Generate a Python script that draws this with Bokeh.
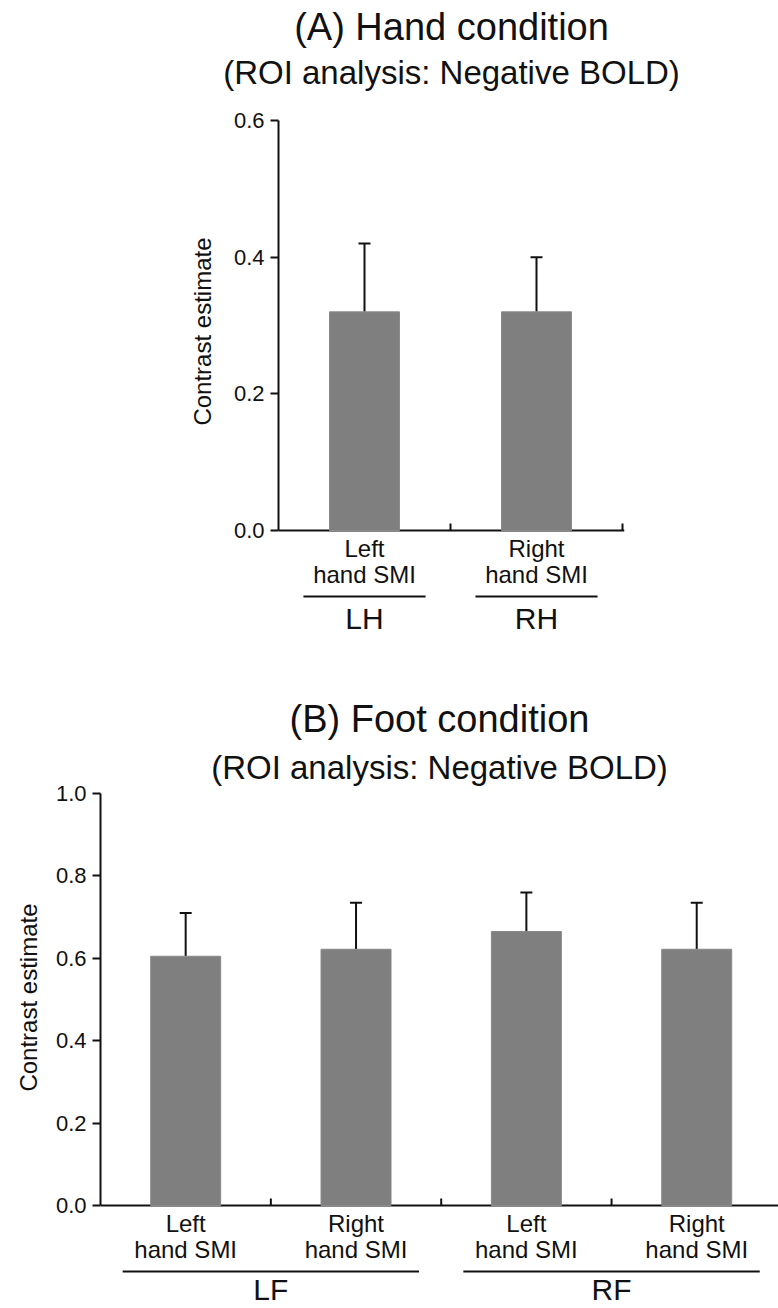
from bokeh.plotting import figure
from bokeh.models import (Range1d, FixedTicker, Label, Whisker, TeeHead, Title,
                          ColumnDataSource)
from bokeh.embed import file_html
from bokeh.resources import INLINE

FONT = "Liberation Sans"
INK = "#111111"
BAR = "#7f7f7f"

# ---------------- data ----------------
hand_title = "(A) Hand condition"
hand_subtitle = "(ROI analysis: Negative BOLD)"
hand_categories = ["Left\nhand SMI", "Right\nhand SMI"]
hand_groups = ["LH", "RH"]
hand_group_members = [[0], [1]]
hand_values = [0.32, 0.32]
hand_err_top = [0.42, 0.40]
hand_yticks = [0.0, 0.2, 0.4, 0.6]

foot_title = "(B) Foot condition"
foot_subtitle = "(ROI analysis: Negative BOLD)"
foot_categories = ["Left\nhand SMI", "Right\nhand SMI", "Left\nhand SMI", "Right\nhand SMI"]
foot_groups = ["LF", "RF"]
foot_group_members = [[0, 1], [2, 3]]
foot_values = [0.605, 0.622, 0.665, 0.622]
foot_err_top = [0.71, 0.735, 0.76, 0.735]
foot_yticks = [0.0, 0.2, 0.4, 0.6, 0.8, 1.0]

y_label = "Contrast estimate"

CAT_FS = 24
GRP_FS = 30


def make_title(text, size, standoff, valign, offset=0):
    kw = dict(text=text, align="center", text_font=FONT, text_font_size=size,
              text_font_style="normal", text_color=INK, vertical_align=valign,
              offset=offset)
    try:
        return Title(standoff=standoff, **kw)
    except Exception:
        return Title(standoff=0, **kw)


def panel(title, subtitle, cats, groups, members, values, err_top, yticks,
          height, frame_left, frame_right, axis_top, axis_zero, cat_px,
          sub_standoff, title_standoff, title_offset, ylab_offset, ylab_standoff,
          underline_half, group_below):
    """frame_left/right, axis_top (y of max tick), axis_zero (y of 0) are
    pixel positions inside this figure; cat_px = pixels per category."""
    width = 778
    ymax = yticks[-1]
    uy = (axis_zero - axis_top) / ymax           # px per y unit
    x_end = (frame_right - frame_left) / cat_px
    y_start = -(height - axis_zero) / uy

    p = figure(width=width, height=height, output_backend="svg",
               toolbar_location=None, title=None, x_axis_location=None,
               x_range=Range1d(0, x_end), y_range=Range1d(y_start, ymax),
               min_border_left=frame_left, min_border_right=width - frame_right,
               min_border_top=axis_top, min_border_bottom=0)
    p.outline_line_color = None
    p.xgrid.visible = False
    p.ygrid.visible = False
    p.background_fill_color = "white"
    p.border_fill_color = "white"

    # y axis (library axis, bounded to the data range)
    ya = p.yaxis[0]
    ya.bounds = (0, ymax)
    ya.ticker = FixedTicker(ticks=yticks)
    ya.major_label_overrides = {t: f"{t:.1f}" for t in yticks}
    ya.axis_line_width = 2
    ya.axis_line_color = INK
    ya.major_tick_line_width = 2
    ya.major_tick_line_color = INK
    ya.major_tick_out = 8
    ya.major_tick_in = 0
    ya.minor_tick_line_color = None
    ya.major_label_standoff = 6
    ya.major_label_text_font = FONT
    ya.major_label_text_font_size = "22px"
    ya.major_label_text_color = INK

    # y-axis title, placed along the bounded part of the axis
    p.add_layout(Title(text=y_label, align="right", offset=ylab_offset,
                       text_font=FONT, text_font_size="24px",
                       text_font_style="normal", text_color=INK,
                       standoff=ylab_standoff), "left")

    n = len(cats)
    centers = [i + 0.5 for i in range(n)]
    bounds = [i for i in range(1, n + 1) if i <= x_end]

    # x baseline and inward ticks at category boundaries
    p.segment(x0=[0], y0=[0], x1=[x_end], y1=[0], line_width=2, line_color=INK)
    p.segment(x0=bounds, y0=[0] * len(bounds), x1=bounds,
              y1=[7 / uy] * len(bounds), line_width=2, line_color=INK)

    # bars and upper error bars
    src = ColumnDataSource(dict(x=centers, top=values, upper=err_top))
    p.vbar(x="x", top="top", width=70 / cat_px, source=src,
           fill_color=BAR, line_color="#8a8a8a", line_width=1)
    p.add_layout(Whisker(source=src, base="x", lower="top", upper="upper",
                         dimension="height", line_width=2, line_color=INK,
                         lower_head=None,
                         upper_head=TeeHead(size=12, line_width=2, line_color=INK)))

    def ypx(px, fs=0):
        # px = wanted baseline distance below the zero line
        return -(px - 0.4 * fs) / uy

    # category labels
    for c, lab in zip(centers, cats):
        for k, line in enumerate(lab.split("\n")):
            p.add_layout(Label(x=c, y=ypx(28 + 26 * k, CAT_FS), text=line,
                               text_font=FONT, text_font_size=f"{CAT_FS}px",
                               text_color=INK, text_align="center",
                               text_baseline="alphabetic"))
    # group underline + label
    ux0, ux1, uyy = [], [], []
    for g, mem in zip(groups, members):
        gc = sum(centers[m] for m in mem) / len(mem)
        half = underline_half * len(mem)
        ux0.append(gc - half)
        ux1.append(gc + half)
        uyy.append(ypx(66))
        p.add_layout(Label(x=gc, y=ypx(group_below, GRP_FS), text=g,
                           text_font=FONT, text_font_size=f"{GRP_FS}px",
                           text_color=INK, text_align="center",
                           text_baseline="alphabetic"))
    p.segment(x0=ux0, y0=uyy, x1=ux1, y1=uyy, line_width=2, line_color=INK)

    # titles (subtitle first: it sits nearest the frame)
    p.add_layout(make_title(subtitle, "33px", sub_standoff, "top"), "above")
    p.add_layout(make_title(title, "38px", title_standoff, "bottom", title_offset),
                 "above")
    return p


top = panel(hand_title, hand_subtitle, hand_categories, hand_groups, hand_group_members,
            hand_values, hand_err_top, hand_yticks,
            height=655, frame_left=278, frame_right=624, axis_top=120, axis_zero=530,
            cat_px=172, sub_standoff=55, title_standoff=-42, title_offset=0,
            ylab_offset=117, ylab_standoff=30, underline_half=0.355, group_below=100)

bottom = panel(foot_title, foot_subtitle, foot_categories, foot_groups, foot_group_members,
               foot_values, foot_err_top, foot_yticks,
               height=653, frame_left=100, frame_right=778, axis_top=138, axis_zero=550,
               cat_px=170.35, sub_standoff=11, title_standoff=8, title_offset=0,
               ylab_offset=110, ylab_standoff=21, underline_half=0.435, group_below=96)

open("out.html", "w").write(file_html([top, bottom], INLINE))
